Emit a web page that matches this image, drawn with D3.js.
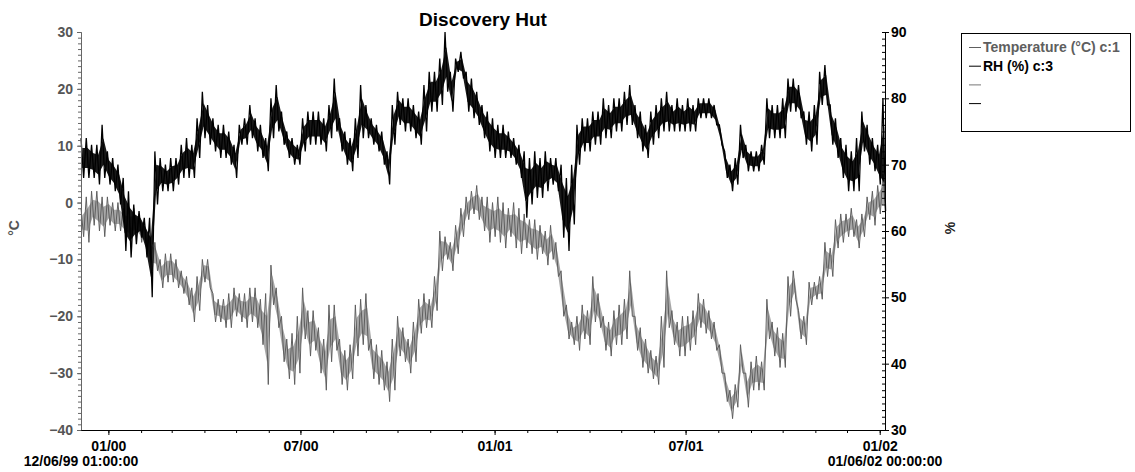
<!DOCTYPE html>
<html>
<head>
<meta charset="utf-8">
<script src="https://cdn.jsdelivr.net/npm/d3@7"></script>
<style>
  body { margin: 0; background: #fff; }
  text { font-family: "Liberation Sans", Arial, sans-serif; font-weight: bold; }
</style>
</head>
<body>
<svg id="chart"></svg>
<script>
const svgWidth = 1135
const svgHeight = 472
const tempColour = '#5e5e5e'
const rhColour = '#000'

// logger record: 12/06/99 01:00:00 -> 01/06/02 00:00:00, summarised as 5-day bins (high / low)
const startDate = new Date(1999, 11, 6, 1)
const endDate = new Date(2002, 0, 6, 0)
const binDays = 5

const tempHi = [
  -1, 1, 2, 2, 1, 1, 0, 0, -1, -1,
  -1, -2, -3, -6, -7, -10, -9, -9, -10, -12,
  -13, -15, -13, -10, -10, -16, -17, -17, -16, -15,
  -16, -16, -15, -15, -17, -16, -11, -15, -20, -24,
  -23, -20, -15, -19, -19, -22, -24, -18, -18, -24,
  -26, -25, -18, -17, -16, -24, -25, -26, -28, -24,
  -20, -22, -24, -21, -17, -16, -17, -13, -5, -6,
  -7, -4, -1, 1, 2, 3, 1, 1, 0, 1,
  0, -1, 0, -1, -2, -3, -3, -4, -5, -4,
  -7, -12, -18, -21, -20, -18, -19, -13, -16, -20,
  -21, -19, -18, -17, -12, -20, -22, -24, -26, -27,
  -20, -12, -19, -21, -20, -20, -19, -16, -17, -19,
  -21, -25, -30, -33, -32, -25, -30, -28, -27, -28,
  -17, -21, -22, -23, -13, -12, -19, -20, -14, -14,
  -13, -7, -8, -3, -2, -2, -1, -3, -2, 1,
  2, 3, 5
]
const tempLo = [
  -6, -7, -4, -5, -6, -4, -5, -5, -6, -7,
  -6, -7, -8, -12, -12, -15, -14, -14, -15, -16,
  -18, -21, -19, -14, -15, -21, -21, -22, -22, -20,
  -21, -22, -21, -22, -25, -32, -18, -22, -28, -31,
  -32, -30, -24, -27, -26, -30, -33, -28, -26, -32,
  -33, -31, -27, -25, -26, -31, -32, -33, -35, -33,
  -27, -28, -30, -28, -23, -22, -22, -19, -12, -10,
  -12, -9, -6, -3, -2, -3, -5, -7, -6, -7,
  -8, -6, -8, -9, -8, -9, -10, -9, -11, -10,
  -13, -20, -24, -25, -26, -24, -25, -21, -22, -26,
  -27, -25, -25, -24, -20, -26, -29, -30, -31, -32,
  -29, -22, -25, -27, -27, -26, -25, -22, -23, -24,
  -26, -30, -35, -38, -36, -30, -36, -33, -33, -33,
  -24, -27, -29, -29, -20, -17, -24, -25, -18, -17,
  -17, -13, -13, -8, -7, -6, -6, -8, -6, -3,
  -4, -2, -2
]
const rhHi = [
  74, 74, 73, 73, 76, 72, 71, 70, 68, 66,
  64, 63, 62, 62, 72, 71, 70, 71, 71, 73,
  74, 73, 77, 81, 79, 77, 76, 76, 75, 73,
  76, 77, 79, 77, 76, 74, 80, 82, 78, 75,
  74, 73, 77, 78, 78, 78, 77, 79, 83, 77,
  75, 74, 77, 82, 79, 77, 76, 75, 72, 79,
  81, 80, 80, 79, 78, 82, 84, 84, 86, 90,
  84, 86, 87, 84, 83, 81, 79, 78, 77, 76,
  76, 75, 74, 73, 72, 71, 72, 71, 72, 71,
  71, 70, 68, 70, 76, 77, 77, 78, 78, 80,
  79, 80, 80, 81, 82, 79, 78, 76, 78, 79,
  80, 81, 79, 80, 79, 80, 79, 80, 80, 80,
  79, 76, 72, 70, 71, 76, 73, 72, 72, 73,
  80, 79, 79, 80, 83, 83, 82, 78, 78, 79,
  84, 85, 79, 77, 74, 73, 72, 74, 78, 76,
  74, 73, 80
]
const rhLo = [
  68, 68, 68, 67, 68, 67, 66, 64, 57, 56,
  58, 59, 56, 50, 64, 66, 66, 66, 67, 68,
  68, 68, 71, 74, 73, 72, 71, 71, 70, 68,
  73, 73, 74, 72, 71, 69, 74, 75, 73, 71,
  70, 70, 72, 73, 73, 73, 72, 74, 75, 72,
  70, 69, 71, 74, 74, 73, 72, 70, 67, 73,
  76, 75, 75, 74, 73, 75, 78, 78, 79, 81,
  78, 84, 83, 78, 77, 76, 74, 72, 71, 71,
  71, 71, 70, 68, 62, 64, 65, 65, 66, 67,
  66, 59, 57, 61, 70, 72, 72, 73, 73, 74,
  74, 75, 75, 76, 76, 74, 72, 71, 73, 74,
  75, 75, 75, 75, 75, 75, 75, 77, 77, 77,
  76, 73, 68, 66, 67, 71, 69, 69, 69, 70,
  74, 74, 74, 74, 78, 78, 77, 73, 72, 73,
  79, 79, 73, 71, 68, 66, 66, 66, 72, 70,
  69, 67, 63
]

const tempTicks = [-40, -30, -20, -10, 0, 10, 20, 30]
const rhTicks = [30, 40, 50, 60, 70, 80, 90]
const monthTicks = ['2000-01-01', '2000-07-01', '2001-01-01', '2001-07-01', '2002-01-01']
const legendItems = [
  { label: 'Temperature (°C) c:1', colour: tempColour },
  { label: 'RH (%) c:3', colour: rhColour },
  { label: '', colour: '#777' },
  { label: '', colour: rhColour }
]

const plot = { left: 81, right: 885, top: 32, bottom: 430 }

const svg = d3.select('#chart')
  .attr('width', svgWidth)
  .attr('height', svgHeight)

const x = d3.scaleTime()
  .domain([startDate, endDate])
  .range([plot.left, plot.right])
const yT = d3.scaleLinear().domain([-40, 30]).range([plot.bottom, plot.top])
const yR = d3.scaleLinear().domain([30, 90]).range([plot.bottom, plot.top])

const binStart = i => d3.timeHour.offset(startDate, i * binDays * 24)

// each bin drawn as high then low, which gives the dense logger trace
const toPoints = (hi, lo) => {
  const pts = []
  hi.forEach((h, i) => {
    const t0 = binStart(i)
    pts.push({ t: t0, v: h })
    pts.push({ t: d3.timeHour.offset(t0, binDays * 12), v: lo[i] })
  })
  return pts
}

const toBand = (hi, lo) => hi.map((h, i) => ({
  t: d3.timeHour.offset(binStart(i), binDays * 6),
  hi: h,
  lo: lo[i]
}))

const drawSeries = (hi, lo, y, colour, opacity, width) => {
  // inner band of the hourly readings
  svg.append('path')
    .datum(toBand(hi, lo))
    .attr('fill', colour)
    .attr('fill-opacity', opacity)
    .attr('d', d3.area()
      .x(d => x(d.t))
      .y0(d => y(d.lo + (d.hi - d.lo) * 0.25))
      .y1(d => y(d.hi - (d.hi - d.lo) * 0.25)))
  svg.append('path')
    .datum(toPoints(hi, lo))
    .attr('fill', 'none')
    .attr('stroke', colour)
    .attr('stroke-width', width)
    .attr('d', d3.line().x(d => x(d.t)).y(d => y(d.v)))
}

drawSeries(tempHi, tempLo, yT, tempColour, 0.55, 1)
drawSeries(rhHi, rhLo, yR, rhColour, 0.9, 1.3)

// left axis (temperature)
const leftMinor = svg.append('g')
  .attr('transform', `translate(${plot.left},0)`)
  .call(d3.axisLeft(yT).tickValues(d3.range(-40, 31)).tickSize(3).tickFormat(''))
const leftAxis = svg.append('g')
  .attr('transform', `translate(${plot.left},0)`)
  .call(d3.axisLeft(yT).tickValues(tempTicks).tickSize(4).tickPadding(4).tickSizeOuter(0))
;[leftMinor, leftAxis].forEach(g => {
  g.selectAll('path, line').attr('stroke', '#666')
  g.selectAll('text').attr('fill', '#555').style('font-size', '14px')
})

// right axis (RH)
svg.append('g')
  .attr('transform', `translate(${plot.right},0)`)
  .call(d3.axisLeft(yR).tickValues(d3.range(30, 91)).tickSize(3).tickFormat(''))
svg.append('g')
  .attr('transform', `translate(${plot.right},0)`)
  .call(d3.axisRight(yR).tickValues(rhTicks).tickSize(4).tickPadding(2).tickSizeOuter(0))
  .selectAll('text').attr('fill', '#000').style('font-size', '14px')

// bottom axis
svg.append('g')
  .attr('transform', `translate(0,${plot.bottom})`)
  .call(d3.axisBottom(x).tickValues(d3.timeMonth.range(startDate, endDate)).tickSize(3).tickFormat('').tickSizeOuter(0))
svg.append('g')
  .attr('transform', `translate(0,${plot.bottom})`)
  .call(d3.axisBottom(x)
    .tickValues(monthTicks.map(d => d3.timeParse('%Y-%m-%d')(d)))
    .tickSize(5).tickPadding(6).tickSizeOuter(0)
    .tickFormat(d3.timeFormat('%m/%y')))
  .selectAll('text').attr('fill', '#000').style('font-size', '14px')

// start / end stamps
const stamp = d3.timeFormat('%m/%d/%y %H:%M:%S')
svg.append('text')
  .attr('x', x(startDate)).attr('y', 466)
  .attr('text-anchor', 'middle').style('font-size', '14px')
  .text(stamp(startDate))
svg.append('text')
  .attr('x', x(endDate)).attr('y', 466)
  .attr('text-anchor', 'middle').style('font-size', '14px')
  .text(stamp(endDate))

// title & axis titles
svg.append('text')
  .attr('x', (plot.left + plot.right) / 2).attr('y', 26)
  .attr('text-anchor', 'middle').style('font-size', '19px')
  .text('Discovery Hut')
svg.append('text')
  .attr('transform', 'translate(19,228) rotate(-90)')
  .attr('text-anchor', 'middle').attr('fill', '#555').style('font-size', '14px')
  .text('°C')
svg.append('text')
  .attr('transform', 'translate(955,228) rotate(-90)')
  .attr('text-anchor', 'middle').attr('fill', '#222').style('font-size', '14px')
  .text('%')

// legend
const legend = svg.append('g').attr('transform', 'translate(961,33)')
legend.append('rect')
  .attr('x', 0.5).attr('y', 0.5).attr('width', 169).attr('height', 98)
  .attr('fill', 'none').attr('stroke', '#000')
const items = legend.selectAll('g.item')
  .data(legendItems)
  .join('g')
  .attr('class', 'item')
  .attr('transform', (d, i) => `translate(0,${14 + i * 18.7})`)
items.append('line')
  .attr('x1', 8).attr('x2', 20).attr('y1', 0.5).attr('y2', 0.5)
  .attr('stroke', d => d.colour)
items.append('text')
  .attr('x', 22).attr('dy', '0.35em')
  .attr('fill', d => d.colour)
  .style('font-size', '14px')
  .text(d => d.label)
</script>
</body>
</html>
